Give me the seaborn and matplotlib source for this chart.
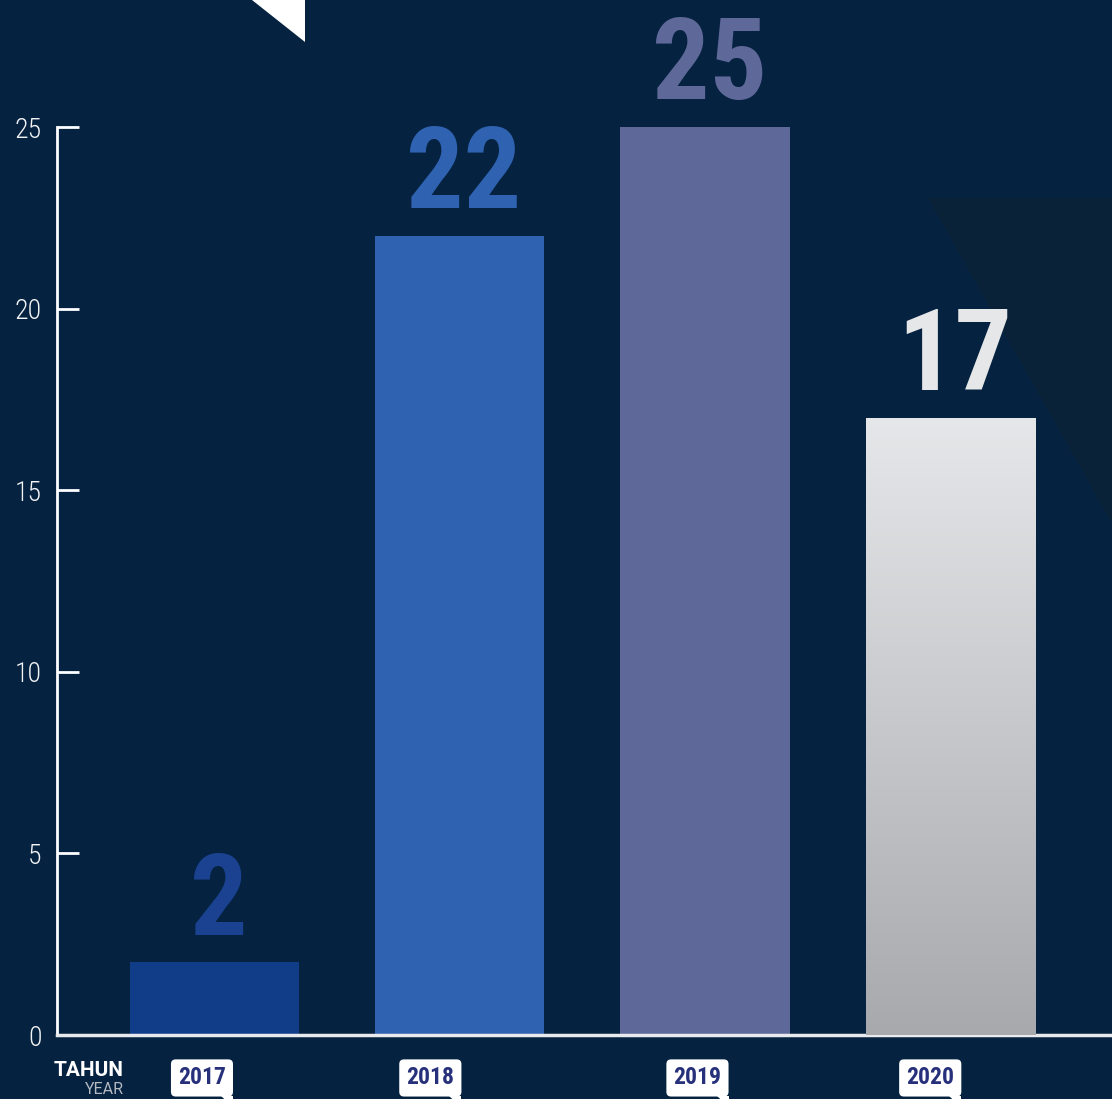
import numpy as np
import matplotlib
matplotlib.use('Agg')
from matplotlib import pyplot as plt
from matplotlib import font_manager
from matplotlib.colors import LinearSegmentedColormap
from matplotlib.patches import Polygon
import matplotlib.transforms as mtransforms
import seaborn as sns

# data
years = ['2017', '2018', '2019', '2020']
values = [2, 22, 25, 17]
bar_colors = ['#113d88', '#2f62b0', '#5e6899', '#e2e3e5']
label_colors = ['#1a4290', '#2f62b0', '#5e6899', '#e6e7e9']
y_ticks = [0, 5, 10, 15, 20, 25]

# the year tags are not centred under the bars in the original
tag_shift = [-0.051, -0.12, -0.031, -0.082]

bg = '#052240'

sns.set_style('white')
names = {f.name for f in font_manager.fontManager.ttflist}
big_font = dict(family='Roboto', weight='bold')
for cand in ['Roboto Condensed', 'Liberation Sans Narrow', 'Open Sans Condensed']:
    if cand in names:
        big_font = dict(family=cand, weight='bold')
        break
plt.rcParams['font.family'] = ['Roboto', 'DejaVu Sans']

fig = plt.figure(figsize=(11.12, 10.99), dpi=100)
fig.patch.set_facecolor(bg)
ax = fig.add_axes([57 / 1112, 64 / 1099, 1 - 57 / 1112, 1035 / 1099])
ax.set_facecolor('none')

# background decorations
fig.add_artist(Polygon([(928 / 1112, 1 - 198 / 1099), (1, 1 - 198 / 1099), (1, 1 - 523 / 1099)],
                       closed=True, transform=fig.transFigure, facecolor='#0a2238',
                       edgecolor='none', zorder=-1))
fig.add_artist(Polygon([(252 / 1112, 1), (305 / 1112, 1), (305 / 1112, 1 - 42 / 1099)],
                       closed=True, transform=fig.transFigure, facecolor='white',
                       edgecolor='none', zorder=5))

sns.barplot(x=years, y=values, hue=years, palette=bar_colors, legend=False,
            width=0.69, saturation=1, ax=ax, zorder=2, linewidth=0, edgecolor='none')

# gradient on last bar
p = ax.patches[3]
grad = np.linspace(0, 1, 256).reshape(-1, 1)
cmap = LinearSegmentedColormap.from_list('g', ['#a8a9ad', '#e6e7e9'])
im = ax.imshow(grad, extent=[p.get_x(), p.get_x() + p.get_width(), 0, p.get_height()],
               cmap=cmap, aspect='auto', origin='lower', zorder=3)
im.set_clip_path(p)

ax.set_xlim(-0.642, 3.659)
ax.set_ylim(0, 28.5)

# big value labels
for i, (v, c) in enumerate(zip(values, label_colors)):
    ax.annotate(str(v), (i, v), xytext=(3, 20), textcoords='offset points',
                ha='center', va='baseline', color=c, fontsize=82,
                family=big_font['family'], weight='heavy')

# axes styling
for s in ['top', 'right']:
    ax.spines[s].set_visible(False)
ax.spines['left'].set_bounds(0, 25)
ax.spines['left'].set_color('white')
ax.spines['left'].set_linewidth(2)
ax.spines['bottom'].set_color('#e8eaee')
ax.spines['bottom'].set_linewidth(2.5)
ax.set_yticks(y_ticks)
ax.tick_params(axis='y', left=True, direction='in', length=16, width=2, color='white',
               labelcolor='#f2f3f5', labelsize=20, pad=11)
for t in ax.get_yticklabels():
    t.set_family([big_font['family'], 'Roboto', 'DejaVu Sans'])
    t.set_fontweight('light')
ax.tick_params(axis='x', length=0, labelbottom=False)
ax.set_xlabel('')
ax.set_ylabel('')

# year bubbles
trans = mtransforms.blended_transform_factory(ax.transData, ax.transAxes)
texts = []
for i, y in enumerate(years):
    t = ax.text(i + tag_shift[i], -0.0415, y, transform=trans, ha='center', va='center',
                fontsize=17, color='#27307a', clip_on=False,
                bbox=dict(boxstyle='round,pad=0.3,rounding_size=0.2', fc='white', ec='none'),
                **big_font)
    texts.append(t)

fig.canvas.draw()
r = fig.canvas.get_renderer()
for t in texts:
    e = t.get_bbox_patch().get_window_extent(r)
    x1, y0 = e.x1, e.y0
    fig.add_artist(Polygon([((x1 - 12) / 1112, (y0 + 1) / 1099), (x1 / 1112, (y0 + 1) / 1099),
                            (x1 / 1112, (y0 - 10) / 1099)], closed=True,
                           transform=fig.transFigure, facecolor='white', edgecolor='none'))

fig.text(124 / 1112, 1 - 1071 / 1099, 'TAHUN', ha='right', va='center', color='white',
         fontsize=15, fontweight='bold', family=['Roboto', 'DejaVu Sans'])
fig.text(124 / 1112, 1 - 1090 / 1099, 'YEAR', ha='right', va='center', color='#b4b8c1',
         fontsize=11.5, family=['Roboto', 'DejaVu Sans'])

fig.savefig('out.png', dpi=100, facecolor=bg)
